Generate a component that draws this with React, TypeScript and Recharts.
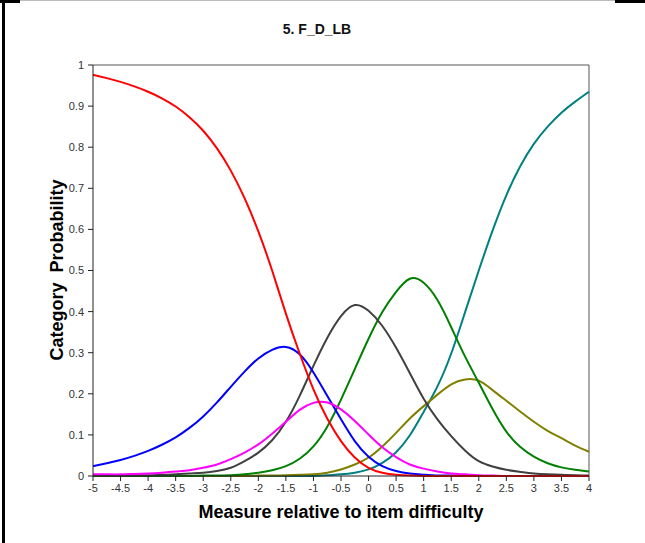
import { LineChart, Line, XAxis, YAxis, ReferenceLine } from 'recharts'

// measure relative to item difficulty, every quarter logit
const measures = [
  -5, -4.75, -4.5, -4.25, -4, -3.75, -3.5, -3.25, -3, -2.75, -2.5, -2.25, -2, -1.75, -1.5, -1.25, -1,
  -0.75, -0.5, -0.25, 0, 0.25, 0.5, 0.75, 1, 1.25, 1.5, 1.75, 2, 2.25, 2.5, 2.75, 3, 3.25, 3.5, 3.75, 4,
]

// category probability curves
const cat1 = [
  0.976, 0.968, 0.959, 0.948, 0.935, 0.919, 0.899, 0.873, 0.84, 0.797, 0.743, 0.676, 0.595, 0.5, 0.395,
  0.298, 0.211, 0.14, 0.085, 0.045, 0.02, 0.008, 0.003, 0.001, 0, 0, 0, 0, 0, 0, 0, 0, 0, 0, 0, 0, 0,
]
const cat2 = [
  0.024, 0.031, 0.039, 0.049, 0.061, 0.076, 0.094, 0.117, 0.145, 0.179, 0.217, 0.254, 0.286, 0.307,
  0.314, 0.296, 0.252, 0.195, 0.138, 0.085, 0.047, 0.024, 0.012, 0.006, 0.003, 0.001, 0.001, 0, 0, 0, 0,
  0, 0, 0, 0, 0, 0,
]
const cat3 = [
  0.004, 0.004, 0.004, 0.005, 0.006, 0.008, 0.011, 0.014, 0.02, 0.028, 0.041, 0.057, 0.077, 0.103, 0.132,
  0.161, 0.178, 0.179, 0.162, 0.134, 0.101, 0.07, 0.046, 0.028, 0.018, 0.011, 0.006, 0.004, 0.002, 0.001,
  0, 0, 0, 0, 0, 0, 0,
]
const cat4 = [
  0.001, 0.001, 0.001, 0.002, 0.002, 0.003, 0.004, 0.006, 0.008, 0.012, 0.02, 0.036, 0.057, 0.087, 0.132,
  0.195, 0.268, 0.336, 0.389, 0.416, 0.402, 0.365, 0.312, 0.25, 0.188, 0.138, 0.097, 0.062, 0.036, 0.023,
  0.015, 0.01, 0.006, 0.004, 0.003, 0.002, 0.001,
]
const cat5 = [
  0, 0, 0, 0, 0, 0, 0, 0, 0.001, 0.001, 0.002, 0.004, 0.008, 0.014, 0.024, 0.042, 0.072, 0.12, 0.186,
  0.26, 0.334, 0.399, 0.448, 0.48, 0.47, 0.428, 0.362, 0.291, 0.227, 0.163, 0.108, 0.071, 0.047, 0.031,
  0.021, 0.015, 0.011,
]
const cat6 = [
  0, 0, 0, 0, 0, 0, 0, 0, 0, 0, 0, 0, 0.001, 0.001, 0.002, 0.003, 0.004, 0.008, 0.016, 0.028, 0.045,
  0.072, 0.105, 0.14, 0.17, 0.198, 0.223, 0.235, 0.232, 0.209, 0.183, 0.157, 0.132, 0.11, 0.092, 0.074,
  0.059,
]
const cat7 = [
  0, 0, 0, 0, 0, 0, 0, 0, 0, 0, 0, 0, 0, 0, 0, 0, 0, 0.002, 0.004, 0.008, 0.016, 0.032, 0.058, 0.099,
  0.156, 0.218, 0.298, 0.398, 0.5, 0.597, 0.683, 0.753, 0.808, 0.85, 0.884, 0.911, 0.935,
]

const xTicks = [-5, -4.5, -4, -3.5, -3, -2.5, -2, -1.5, -1, -0.5, 0, 0.5, 1, 1.5, 2, 2.5, 3, 3.5, 4]
const yTicks = [0, 0.1, 0.2, 0.3, 0.4, 0.5, 0.6, 0.7, 0.8, 0.9, 1]

// drawn in this order so red ends up on top along the baseline
const series = [
  { key: 'c7', values: cat7, color: '#008080' },
  { key: 'c6', values: cat6, color: '#808000' },
  { key: 'c5', values: cat5, color: '#008000' },
  { key: 'c4', values: cat4, color: '#404040' },
  { key: 'c2', values: cat2, color: '#0000ff' },
  { key: 'c3', values: cat3, color: '#ff00ff' },
  { key: 'c1', values: cat1, color: '#ff0000' },
]

const rows = measures.map((x, i) => {
  const row: Record<string, number> = { x }
  series.forEach((s) => (row[s.key] = s.values[i]))
  return row
})

const font = '"Liberation Sans", Arial, sans-serif'
const tickStyle = { fontSize: 11, fill: '#333', fontFamily: font }

export default function App() {
  return (
    <div style={{ position: 'relative', width: 645, height: 543, margin: -8, background: '#fff', fontFamily: font }}>
      <div style={{ position: 'absolute', left: 0, width: 634, top: 21, textAlign: 'center', fontSize: 14, fontWeight: 'bold', color: '#111' }}>
        5. F_D_LB
      </div>

      <LineChart width={645} height={543} data={rows} margin={{ top: 65, right: 56, bottom: 37, left: 33 }}>
        <XAxis
          dataKey='x'
          type='number'
          domain={[-5, 4]}
          ticks={xTicks}
          interval={0}
          height={30}
          tickSize={5}
          tickMargin={3}
          tick={tickStyle}
          stroke='#222'
          tickFormatter={(v) => String(v)}
        />
        <YAxis
          type='number'
          domain={[0, 1]}
          ticks={yTicks}
          interval={0}
          width={60}
          tickSize={5}
          tickMargin={4}
          tick={tickStyle}
          stroke='#222'
          tickFormatter={(v) => String(v)}
        />
        <ReferenceLine y={1} stroke='#555' strokeWidth={1} />
        <ReferenceLine x={4} stroke='#555' strokeWidth={1} />
        {series.map((s) => (
          <Line
            key={s.key}
            type='natural'
            dataKey={s.key}
            stroke={s.color}
            strokeWidth={2}
            dot={false}
            activeDot={false}
            isAnimationActive={false}
          />
        ))}
      </LineChart>

      <div
        style={{
          position: 'absolute',
          left: 57,
          top: 270,
          transform: 'translate(-50%, -50%) rotate(-90deg)',
          fontSize: 18,
          fontWeight: 'bold',
          whiteSpace: 'pre',
          color: '#000',
        }}
      >
        {'Category  Probability'}
      </div>
      <div style={{ position: 'absolute', left: 0, width: 682, top: 502, textAlign: 'center', fontSize: 18, fontWeight: 'bold', color: '#000' }}>
        Measure relative to item difficulty
      </div>

      {/* page frame bits, pinned to the viewport corner */}
      <div style={{ position: 'fixed', left: 0, top: 0, width: 645, height: 1, background: '#bbb', zIndex: 5 }} />
      <div style={{ position: 'fixed', left: 0, top: 0, width: 20, height: 3, background: '#000', zIndex: 5 }} />
      <div style={{ position: 'fixed', left: 615, top: 0, width: 30, height: 3, background: '#000', zIndex: 5 }} />
      <div style={{ position: 'fixed', left: 2, top: 0, width: 3, height: 543, background: '#000', zIndex: 5 }} />
    </div>
  )
}
